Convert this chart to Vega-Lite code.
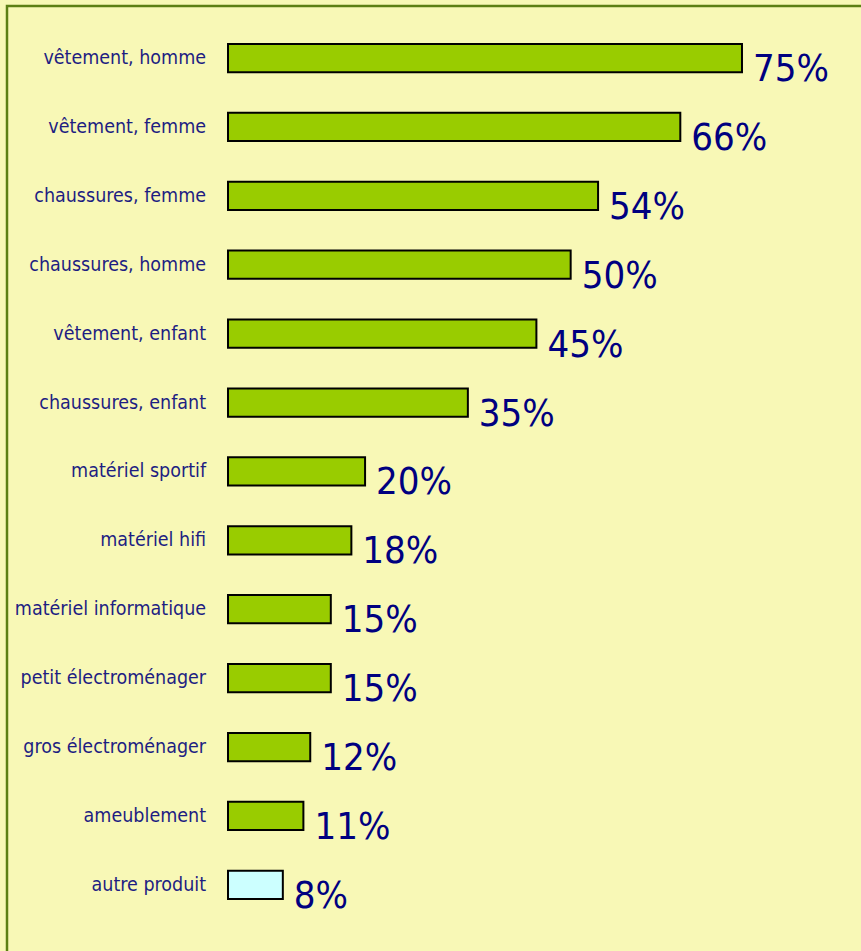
{
  "$schema": "https://vega.github.io/schema/vega-lite/v6.json",
  "autosize": "none",
  "width": 863,
  "height": 954,
  "padding": {"left": 7, "top": 6, "right": 0, "bottom": 0},
  "background": "#F8F8B6",
  "config": {
    "view": {"stroke": "#5C7F14", "strokeWidth": 2.5, "fill": "#F8F8B6"}
  },
  "data": {
    "values": [
      {"cat": "vêtement, homme", "pct": 75, "label": "75%", "kind": "main"},
      {"cat": "vêtement, femme", "pct": 66, "label": "66%", "kind": "main"},
      {"cat": "chaussures, femme", "pct": 54, "label": "54%", "kind": "main"},
      {"cat": "chaussures, homme", "pct": 50, "label": "50%", "kind": "main"},
      {"cat": "vêtement, enfant", "pct": 45, "label": "45%", "kind": "main"},
      {"cat": "chaussures, enfant", "pct": 35, "label": "35%", "kind": "main"},
      {"cat": "matériel sportif", "pct": 20, "label": "20%", "kind": "main"},
      {"cat": "matériel hifi", "pct": 18, "label": "18%", "kind": "main"},
      {"cat": "matériel informatique", "pct": 15, "label": "15%", "kind": "main"},
      {"cat": "petit électroménager", "pct": 15, "label": "15%", "kind": "main"},
      {"cat": "gros électroménager", "pct": 12, "label": "12%", "kind": "main"},
      {"cat": "ameublement", "pct": 11, "label": "11%", "kind": "main"},
      {"cat": "autre produit", "pct": 8, "label": "8%", "kind": "other"}
    ]
  },
  "encoding": {
    "y": {
      "field": "cat",
      "type": "nominal",
      "sort": null,
      "axis": null,
      "scale": {"paddingInner": 0.59, "paddingOuter": 0.718, "align": 0.383}
    }
  },
  "layer": [
    {
      "mark": {"type": "bar", "stroke": "#000000", "strokeWidth": 2},
      "encoding": {
        "x": {
          "field": "pct",
          "type": "quantitative",
          "axis": null,
          "scale": {"domain": [-32.25, 93.68], "zero": false, "nice": false}
        },
        "x2": {"datum": 0},
        "fill": {
          "field": "kind",
          "type": "nominal",
          "legend": null,
          "scale": {"domain": ["main", "other"], "range": ["#99CC00", "#CCFFFF"]}
        }
      }
    },
    {
      "mark": {
        "type": "text",
        "align": "left",
        "baseline": "middle",
        "dx": 11,
        "dy": 12,
        "font": "DejaVu Sans Condensed, DejaVu Sans, sans-serif",
        "fontSize": 38,
        "color": "#000080"
      },
      "encoding": {
        "x": {"field": "pct", "type": "quantitative"},
        "text": {"field": "label"}
      }
    },
    {
      "mark": {
        "type": "text",
        "align": "right",
        "baseline": "middle",
        "font": "DejaVu Sans Condensed, DejaVu Sans, sans-serif",
        "fontSize": 19.5,
        "color": "#1E1E82"
      },
      "encoding": {
        "x": {"datum": -3.2},
        "text": {"field": "cat"}
      }
    }
  ]
}
